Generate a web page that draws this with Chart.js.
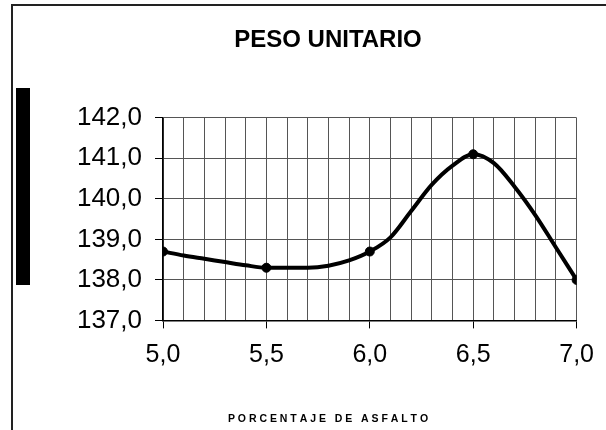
<!DOCTYPE html>
<html>
<head>
<meta charset="utf-8">
<script src="https://cdn.jsdelivr.net/npm/chart.js@4"></script>
<style>
  html, body { margin: 0; padding: 0; background: #fff; }
  #wrap { width: 606px; height: 430px; }
</style>
</head>
<body>
<div id="wrap"><canvas id="chart" width="606" height="430"></canvas></div>
<script>
// measured points (% asphalt -> unit weight)
const asphalt = [5.0, 5.5, 6.0, 6.5, 7.0];
const unitWeight = [138.7, 138.3, 138.7, 141.1, 138.0];

// smoothed curve every 0.1 %
const curveX = [5.0, 5.1, 5.2, 5.3, 5.4, 5.5, 5.6, 5.7, 5.8, 5.9, 6.0, 6.1, 6.2, 6.3, 6.4, 6.5, 6.6, 6.7, 6.8, 6.9, 7.0];
const curveY = [138.7, 138.6, 138.52, 138.44, 138.36, 138.3, 138.3, 138.3, 138.35, 138.48, 138.7, 139.05, 139.7, 140.35, 140.82, 141.1, 140.88, 140.3, 139.6, 138.8, 138.0];

const yTicks = [137, 138, 139, 140, 141, 142];

const fmt = (v) => v.toFixed(1).replace(".", ",");
const isHalf = (v) => Math.round(v * 10) % 5 === 0;

const frame = {
  id: "frame",
  beforeDraw(chart) {
    const ctx = chart.ctx;
    ctx.save();
    ctx.strokeStyle = "#222";
    ctx.lineWidth = 2;
    ctx.beginPath();
    ctx.moveTo(12, 430);
    ctx.lineTo(12, 5);
    ctx.lineTo(606, 5);
    ctx.stroke();
    ctx.fillStyle = "#000";
    ctx.fillRect(16, 88, 14, 197);
    ctx.restore();
  }
};

new Chart(document.getElementById("chart"), {
  type: "line",
  data: {
    datasets: [
      {
        label: "curva",
        data: curveX.map((x, i) => ({ x: x, y: curveY[i] })),
        borderColor: "#000",
        borderWidth: 4,
        pointRadius: 0,
        cubicInterpolationMode: "monotone",
        fill: false
      },
      {
        label: "ensayos",
        data: asphalt.map((x, i) => ({ x: x, y: unitWeight[i] })),
        showLine: false,
        pointRadius: 4.5,
        pointBackgroundColor: "#000",
        pointBorderColor: "#000"
      }
    ]
  },
  options: {
    responsive: false,
    animation: false,
    events: [],
    layout: { padding: { top: 0, left: 78, right: 28, bottom: 0 } },
    plugins: {
      legend: { display: false },
      tooltip: { enabled: false },
      title: {
        display: true,
        text: "PESO UNITARIO",
        color: "#000",
        font: { family: "Liberation Sans, Arial, sans-serif", size: 24, weight: "bold" },
        padding: { top: 26, bottom: 63 }
      },
      subtitle: {
        display: true,
        position: "bottom",
        text: "P O R C E N T A J E   D E   A S F A L T O",
        color: "#000",
        font: { family: "Liberation Sans, Arial, sans-serif", size: 10.5, weight: "bold" },
        padding: { top: 10, bottom: 5 }
      }
    },
    scales: {
      x: {
        type: "linear",
        min: 5,
        max: 7,
        afterFit: (scale) => { scale.height = 82; },
        ticks: {
          stepSize: 0.1,
          autoSkip: false,
          maxRotation: 0,
          padding: 12,
          color: "#000",
          font: { family: "Liberation Sans, Arial, sans-serif", size: 25 },
          callback: (v) => (isHalf(v) ? fmt(v) : "")
        },
        grid: {
          color: "#555",
          lineWidth: 1,
          tickLength: 8,
          tickColor: (ctx) => (ctx.tick && isHalf(ctx.tick.value) ? "#000" : "rgba(0,0,0,0)")
        },
        border: { color: "#000", width: 1.5 }
      },
      y: {
        min: 137,
        max: 142,
        afterFit: (scale) => { scale.width = 85; },
        afterBuildTicks: (scale) => { scale.ticks = yTicks.map((v) => ({ value: v })); },
        ticks: {
          padding: 13,
          color: "#000",
          font: { family: "Liberation Sans, Arial, sans-serif", size: 26 },
          callback: (v) => fmt(v)
        },
        grid: {
          color: "#555",
          lineWidth: 1,
          tickLength: 8,
          tickColor: "#000"
        },
        border: { color: "#000", width: 1.5 }
      }
    }
  },
  plugins: [frame]
});
</script>
</body>
</html>
